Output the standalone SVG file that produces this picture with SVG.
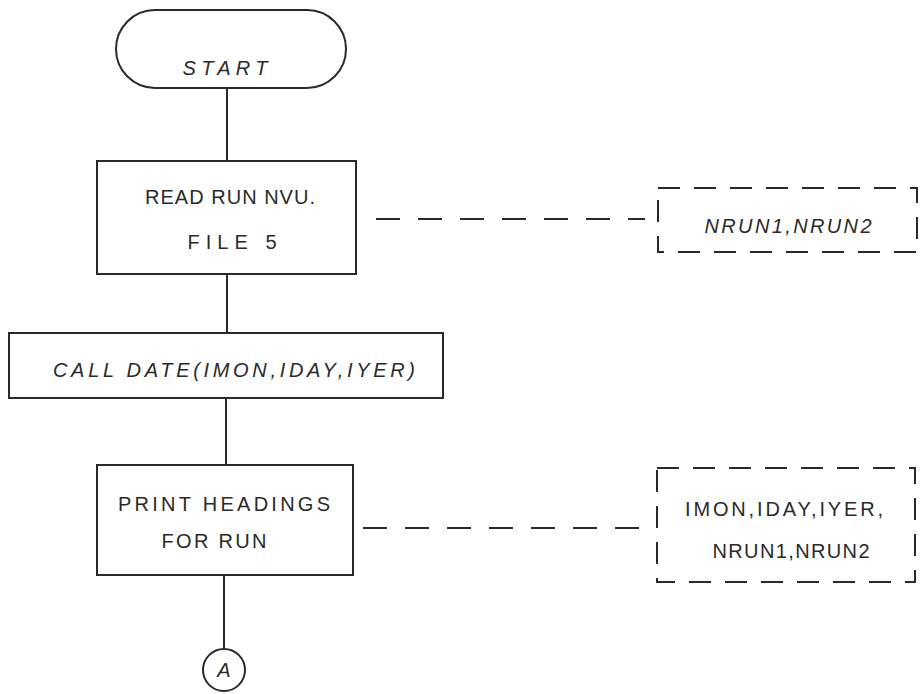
<svg xmlns="http://www.w3.org/2000/svg" width="924" height="694" viewBox="0 0 924 694">
<style>
.box{fill:none;stroke:#2a2a2a;stroke-width:2}
.dbox{fill:none;stroke:#2a2a2a;stroke-width:2;stroke-dasharray:22,14}
.ln{fill:none;stroke:#2a2a2a;stroke-width:2}
.dl{fill:none;stroke:#2a2a2a;stroke-width:2;stroke-dasharray:24,18}
text{font-family:"Liberation Sans",Arial,sans-serif;font-size:20px;fill:#2a2a2a;text-anchor:middle}
.it{font-style:italic}
</style>
<rect width="924" height="694" fill="#ffffff"/>
<g id="connectors">
<line class="ln" x1="227" y1="88" x2="227" y2="160"/>
<line class="ln" x1="227" y1="274" x2="227" y2="333"/>
<line class="ln" x1="226" y1="398" x2="226" y2="465"/>
<line class="ln" x1="224" y1="575" x2="224" y2="648"/>
<line class="dl" x1="376" y1="219" x2="645" y2="219"/>
<line class="dl" x1="363" y1="528" x2="645" y2="528"/>
</g>
<g id="start">
<rect class="box" x="116" y="10" width="230" height="78" rx="39" ry="39"/>
<text class="it" x="225" y="75" textLength="85" lengthAdjust="spacing">START</text>
</g>
<g id="read">
<rect class="box" x="97" y="161" width="259" height="113"/>
<text x="230" y="204" textLength="170" lengthAdjust="spacing">READ RUN NVU.</text>
<text x="232" y="249" textLength="89" lengthAdjust="spacing">FILE 5</text>
</g>
<g id="call">
<rect class="box" x="9" y="333" width="434" height="65"/>
<text class="it" x="234" y="377" textLength="362" lengthAdjust="spacing">CALL DATE(IMON,IDAY,IYER)</text>
</g>
<g id="print">
<rect class="box" x="97" y="465" width="256" height="110"/>
<text x="224" y="511" textLength="212" lengthAdjust="spacing">PRINT HEADINGS</text>
<text x="214" y="548" textLength="105" lengthAdjust="spacing">FOR RUN</text>
</g>
<g id="connA">
<circle class="box" cx="224" cy="670" r="21"/>
<text class="it" x="224" y="677">A</text>
</g>
<g id="data1">
<rect class="dbox" x="658" y="188" width="259" height="64"/>
<text class="it" x="788" y="233" textLength="167" lengthAdjust="spacing">NRUN1,NRUN2</text>
</g>
<g id="data2">
<rect class="dbox" x="657" y="468" width="258" height="114"/>
<text x="784" y="516" textLength="198" lengthAdjust="spacing">IMON,IDAY,IYER,</text>
<text x="791" y="558" textLength="157" lengthAdjust="spacing">NRUN1,NRUN2</text>
</g>
</svg>
